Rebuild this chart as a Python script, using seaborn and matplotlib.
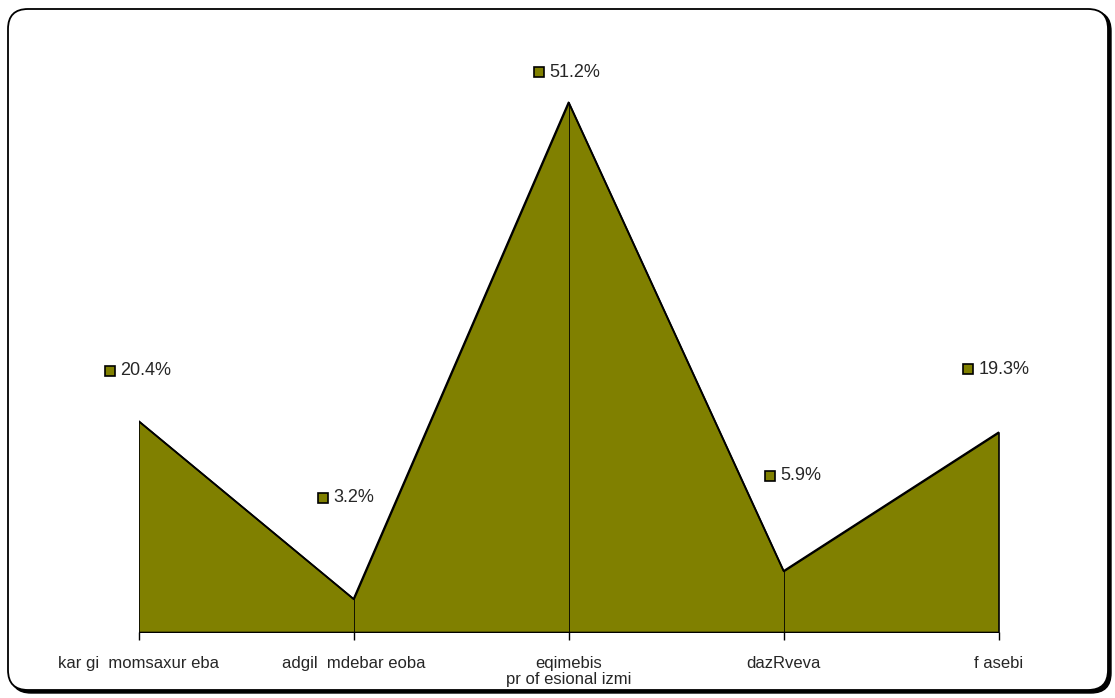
import numpy as np
import pandas as pd
import matplotlib
matplotlib.use("Agg")
import matplotlib.pyplot as plt
from matplotlib.patches import FancyBboxPatch
from matplotlib.transforms import offset_copy
import seaborn as sns

categories = ["kar gi  momsaxur eba", "adgil  mdebar eoba", "eqimebis", "dazRveva", "f asebi"]
values = [20.4, 3.2, 51.2, 5.9, 19.3]
value_labels = ["20.4%", "3.2%", "51.2%", "5.9%", "19.3%"]
axis_title = "pr of esional izmi"

# label marker offsets in pixels, relative to the data point
label_offsets = [(-29, 50), (-31, 101), (-30, 30), (-14, 95), (-31, 63)]

olive = "#808000"

sns.set_style("white")
plt.rcParams["font.family"] = ["Liberation Sans", "DejaVu Sans"]

df = pd.DataFrame({"x": np.arange(len(categories)), "value": values})

fig = plt.figure(figsize=(11.15, 6.98), dpi=100)
ax = fig.add_axes([138.5 / 1115, 66 / 698, 860 / 1115, 569 / 698])

# rounded chart frame with shadow (pixel coordinates)
shadow = FancyBboxPatch((11, 5), 1100, 682, boxstyle="round,pad=0,rounding_size=20",
                        transform=None, facecolor="black", edgecolor="black",
                        linewidth=1, zorder=-2)
frame = FancyBboxPatch((8, 8), 1100, 681, boxstyle="round,pad=0,rounding_size=20",
                       transform=None, facecolor="white", edgecolor="black",
                       linewidth=1.3, zorder=-1)
fig.patches.extend([shadow, frame])
ax.set_facecolor("none")

ax.fill_between(df["x"], 0, df["value"], facecolor=olive, edgecolor="black",
                linewidth=1.2, zorder=2)
sns.lineplot(data=df, x="x", y="value", color="black", linewidth=1.2, ax=ax, zorder=3)
ax.vlines(df["x"][1:-1], 0, df["value"][1:-1], color="black", linewidth=0.6, zorder=3)

for xi, v, lab, off in zip(df["x"], values, value_labels, label_offsets):
    tr = offset_copy(ax.transData, fig=fig, x=off[0], y=off[1], units="dots")
    ax.plot([xi], [v], marker="s", markersize=7, linestyle="none",
            markerfacecolor=olive, markeredgecolor="black", markeredgewidth=1.2,
            transform=tr, clip_on=False, zorder=5)
    ax.annotate(lab, xy=(xi, v), xytext=(off[0] + 11, off[1]), textcoords="offset pixels",
                fontsize=13, va="center", ha="left", annotation_clip=False)

ax.set_xlim(0, len(categories) - 1)
ax.set_ylim(0, 55)
ax.set_xticks(df["x"])
ax.set_xticklabels(categories, fontsize=12)
ax.set_yticks([])
ax.set_xlabel(axis_title, fontsize=12, labelpad=1)
ax.set_ylabel("")
ax.tick_params(axis="x", direction="out", length=6, width=1, color="black", pad=11, bottom=True)
for s in ["top", "right", "left", "bottom"]:
    ax.spines[s].set_visible(False)

fig.savefig("out.png", dpi=100)
